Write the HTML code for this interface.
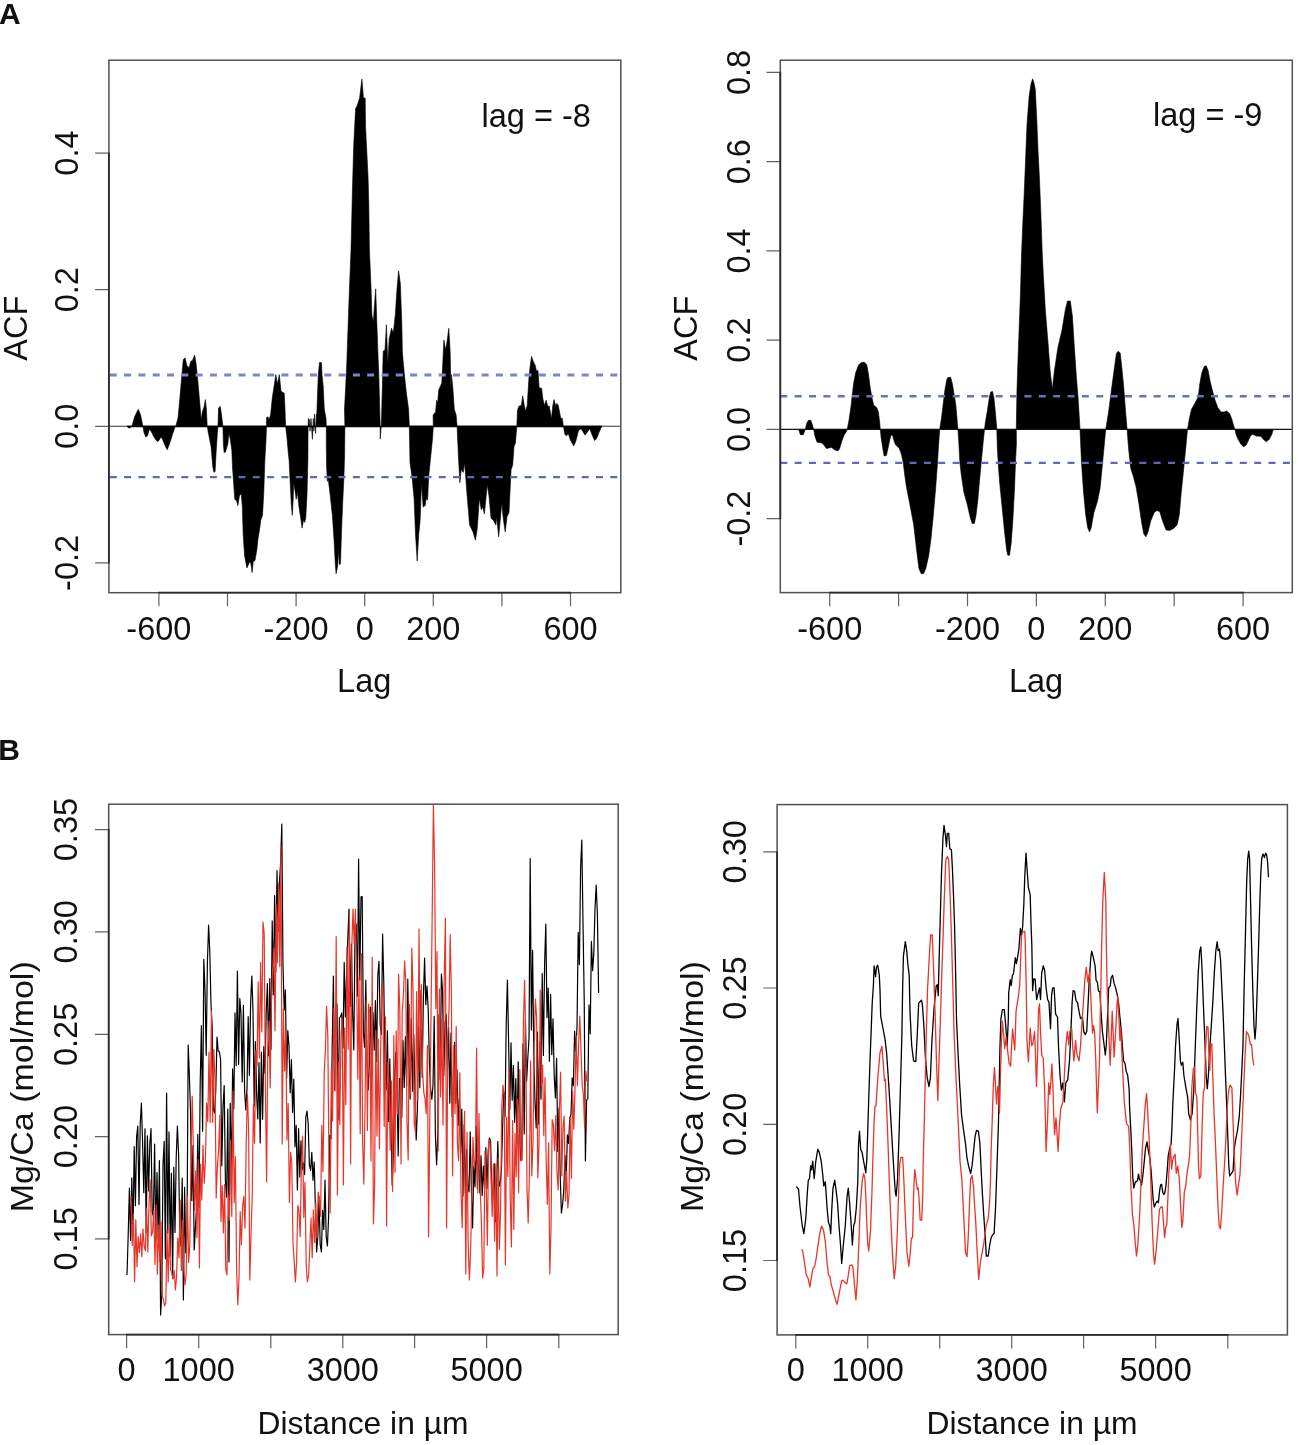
<!DOCTYPE html>
<html lang="en"><head><meta charset="utf-8"><title>Figure</title>
<style>html,body{margin:0;padding:0;background:#fff;overflow:hidden}svg{display:block;will-change:transform;transform:translateZ(0)}text{font-family:'Liberation Sans',sans-serif;fill:#111}</style></head><body>
<svg width="1299" height="1445" viewBox="0 0 1299 1445">
<rect width="1299" height="1445" fill="#fff"/>
<text x="-1" y="24" font-size="30" font-weight="bold" fill="#000">A</text>
<text x="-1.8" y="759.8" font-size="30" font-weight="bold" fill="#000">B</text>
<g id="acf-left">
<path d="M127.3,426.3 129,428.3 131.9,426.3 134.8,416.2 138.3,409.3 140.6,415 142.9,426.3 144,432.4 145.8,437 147.5,435.8 149.3,429.5 151,431.2 154.5,438.1 157.3,441.6 159,440.5 160.8,437 162.5,439.3 164.8,445 167.2,449.7 169.5,443.9 172.4,434.7 174.7,427.7 175.8,426.3 178.1,417.4 179.9,397.7 181.6,378.1 183.3,359.6 185.1,357.9 186.8,365.4 189.1,367.7 190.8,361.4 192.6,360.2 194.6,355 196,363.1 197.8,380.4 199.5,400 201.2,419.7 202.4,411.6 204.1,407 205.3,399.5 206.4,409.3 207.2,426.3 208.7,434.7 211,446.2 212.8,467 213.9,472.2 215.1,471.6 216.2,450.9 217.4,432.4 218,426.3 218.5,408.1 220.3,406.4 221.4,413.9 222.9,426.3 223.4,443.9 224.1,452.6 225.5,452 227.8,443.9 228.9,433.5 230.1,438.2 231.8,449.7 232.5,467 233.7,484.3 234.8,499.4 236.5,500.4 237.9,505.6 239.4,495.8 241.2,493.5 242.3,506.2 243.2,535 244.6,555.8 246.9,568 248.7,563.9 249.8,561.6 251,564 252.1,572.6 253.3,561.6 255,560.5 256.8,550.1 257.9,539.7 259.6,529.3 260.8,520 262.5,515.4 263.7,494.6 264.8,461.2 266,440 266.5,426.3 266.6,417.4 268,416.8 268.9,419.7 270.6,415 272.3,397.7 274.1,386.2 275.8,374.6 277.5,383.9 279.3,374.6 281,390.8 282.7,392.5 284.2,393.1 285,409.3 285.6,426.3 286.8,435.8 288.5,455.5 289.1,460 290.2,483.1 291.4,506.2 292.3,515.4 293.1,500.4 293.7,483.1 294.9,490 296.2,499.3 297.4,492.3 298.9,506.2 300.6,517.7 302.1,528.1 303.5,520 304.7,522.4 305.8,517.7 307,494.6 307.9,460 308.1,426.3 308.4,418.5 309.5,419.7 310,431.2 311,418.5 311.5,426.3 312.4,439.3 313.3,418.5 313.9,431.2 314.5,413.9 315.6,433.5 316.3,413.9 316.8,413.9 317.4,397.7 318.3,374.6 319.5,362.5 321.4,362.5 322,374.6 323.2,386.2 324.3,409.3 326,418.5 326.3,426.3 326.3,443.9 326.6,467 327.4,481.4 328.3,479.6 330.1,494.6 332.4,515.4 334.1,540.8 335.3,563.9 336.1,573.7 337.6,566.2 338.7,550.1 339.3,564.5 340.5,563.9 341.6,529.3 342.8,500.4 343.9,477.3 344.6,455 344.9,426.3 344.5,409.3 345.7,386.2 346.8,363.1 347.6,340 349,300 351,250 352.4,191.5 353.7,145.5 355.6,108.6 357,106 359.6,98.1 361.9,79.1 363.5,98.1 365.2,98.1 365.5,125.7 366.8,152 368.1,178.3 368.8,204.6 369.4,250 370.5,275 371.2,291.6 371.9,315.1 373.3,322 374.5,305 375.7,288.8 376.7,319.3 377.8,350 378.8,374.7 379.6,405 380.2,426.3 380.2,439.1 381.3,426.3 382.3,388.6 383.2,351.2 385,349.8 386.4,324.8 387.8,363.6 389.2,338.7 391.5,328.3 393.3,333.1 395.4,313.7 396.8,291.6 398.6,270.8 400.3,283.3 401.7,319.3 402.4,352.5 404.4,374.7 406.5,394.1 408.6,409.3 409.3,426.3 410,462.7 412,476.5 414.1,498.7 415.5,534.7 417.2,561 418.7,534.7 420.1,520.9 421.5,483.4 423.1,507 425.2,505.6 426.2,498.7 427.6,500.1 428.7,476.5 430.8,455.7 432.6,437.7 433.3,426.3 433.1,414.9 435.6,412.1 436.6,400.3 437.7,402.4 438.7,390 441.8,383 443.9,340.1 445.6,349.8 446.7,344.2 448.8,328.3 450.2,352.5 450.9,388.6 451.5,374.7 452.9,388.6 454.3,409.3 456.1,414.9 457.1,426.3 458.5,458.5 459.9,482.7 461.2,469.6 463.3,472.4 464.4,462.7 465.4,472.4 466.8,491.8 469.6,525 473,531.9 475.4,540.2 477.2,529.2 479.3,498.7 481.3,509.8 482.7,507 484.4,513.9 486.2,495.9 487.2,484.8 489,495.9 491,518.1 493.8,520.9 495.9,525 496.6,516.7 498.7,536.8 500.7,515.3 501.8,502.8 503.2,518.1 505.2,531.9 507,516.7 509,512.5 511.1,469.6 512.7,464.9 514,446.6 515.4,443.3 516.8,426.3 517.5,409.9 519.1,406.1 521.3,405.6 522.7,395.8 524.3,405.6 525.6,411 527.2,405.6 528.9,378.6 530.2,365.6 531.6,356.4 533.2,361.3 535.3,365.6 536.4,371 538,370.5 539.1,387.7 541.6,388.3 542.9,399.1 544.5,405.6 546.1,400.2 547.8,406.6 549.2,406.1 551.5,418.5 552.8,405.6 554.1,399.6 555.5,405.6 556.9,403.4 558.3,405.6 560.7,418 562.3,418.5 563.4,426.3 565,434.7 566.6,435.8 568.3,433.6 570.4,440.1 573.7,446 575.8,441.2 578.5,430.4 581.2,428.8 582.8,431.5 585,435.2 587.7,431.5 589.9,428.8 592,434.7 594.7,440.6 596.9,437.9 599,432.5 601.7,426.3Z" fill="#000" stroke="#000" stroke-width="0.6" stroke-linejoin="round"/>
<path d="M108.9,426.3H620.8" stroke="#333" stroke-width="1.1"/>
<path d="M127,426.5H602" stroke="#000" stroke-width="1.6"/>
<path d="M108.9,375.1H620.8" stroke="#7c84cc" stroke-width="3" stroke-dasharray="7 7.3" stroke-dashoffset="-0.9" fill="none"/>
<path d="M108.9,477.2H620.8" stroke="#6068be" stroke-width="2.2" stroke-dasharray="7 7.3" stroke-dashoffset="-0.9" fill="none"/>
<rect x="108.9" y="60.2" width="511.9" height="532.5" fill="none" stroke="#4e5156" stroke-width="1.5"/>
<path d="M158.9,592.7v13.6M227.5,592.7v13.6M296.1,592.7v13.6M364.7,592.7v13.6M433.3,592.7v13.6M501.9,592.7v13.6M570.5,592.7v13.6" stroke="#5e6268" stroke-width="1.2" fill="none"/><path d="M158.3,592.7H571.1" stroke="#2a2b2e" stroke-width="1.8" fill="none"/><text x="158.9" y="640" font-size="32.5" text-anchor="middle">-600</text><text x="296.1" y="640" font-size="32.5" text-anchor="middle">-200</text><text x="364.7" y="640" font-size="32.5" text-anchor="middle">0</text><text x="433.3" y="640" font-size="32.5" text-anchor="middle">200</text><text x="570.5" y="640" font-size="32.5" text-anchor="middle">600</text>
<path d="M108.9,153.1h-13.8M108.9,289.7h-13.8M108.9,426.3h-13.8M108.9,562.9h-13.8" stroke="#5e6268" stroke-width="1.2" fill="none"/><path d="M108.9,152.5V563.5" stroke="#2a2b2e" stroke-width="1.8" fill="none"/><text transform="translate(78,153.1) rotate(-90)" font-size="32.5" text-anchor="middle">0.4</text><text transform="translate(78,289.7) rotate(-90)" font-size="32.5" text-anchor="middle">0.2</text><text transform="translate(78,426.3) rotate(-90)" font-size="32.5" text-anchor="middle">0.0</text><text transform="translate(78,562.9) rotate(-90)" font-size="32.5" text-anchor="middle">-0.2</text>
<text transform="translate(26.6,328.2) rotate(-90)" font-size="32.5" text-anchor="middle">ACF</text>
<text x="364.2" y="691.8" font-size="32.5" text-anchor="middle">Lag</text>
<text x="481.5" y="127.4" font-size="32.5">lag = -8</text>
</g>
<g id="acf-right">
<path d="M798.7,429.4 800.4,434.7 803.3,434.7 805.3,429.4 806.8,423.1 808.5,420.3 810.8,420.3 812.2,424.3 813.7,429.4 814.8,435.8 817.1,442.2 821.2,442.8 823.5,444.5 826.4,448.5 828.7,448 831.6,447.4 834.5,449.7 837.9,450.9 839.7,448.5 842,440.5 844.3,434.7 846,432.4 847.2,429.4 848.9,420.8 851.2,404.7 853.5,383.9 855.8,372.3 858.7,364.8 861.6,362.5 864.5,362.2 866.8,364.8 868.5,374.6 870.3,388.5 872,397.7 873.7,405.2 876.6,407.5 878.3,411.6 879.5,420.8 880.3,429.4 881.2,438.2 883,449.7 884.1,456 886.4,455.5 888.2,447.4 889.9,439.3 891,435.3 892.6,435.3 893.9,440.5 895.7,445.1 899.1,448 901.4,454.3 903.2,462.4 904.9,476.3 906.6,487.8 908.9,499.4 910.2,506.2 913.7,524.7 916.6,550.1 918.9,568.5 921.2,573.7 923.5,573.7 925.8,568.5 928.7,555.8 931,538.5 933.3,515.4 935.6,488.9 937.3,465.8 938.5,446.2 939.7,429.4 941.4,418.5 943.1,404.7 944.8,390.8 946.6,380.4 947.7,377.5 950.6,377.2 952.4,383.9 954.1,394.3 955.8,404.7 957,418.5 957.9,429.4 958.7,440.5 959.9,462.7 961.6,477.3 963.9,492.3 967.4,505 970.3,517.7 972.2,523.5 974.3,523.5 976,515.4 977.8,500.4 979.5,480.8 981.2,462.7 983,443.9 984.5,429.4 985.3,423.1 987.6,409.3 989.3,397.7 990.7,392 992.5,391.4 993.9,397.7 995.3,411.6 996.5,425.5 996.8,429.4 997.4,449.7 998.5,467 999.7,483.1 1002,506.2 1004.3,529.3 1006.6,550.1 1007.8,555.3 1009.5,555.3 1011.2,543.1 1013,517.7 1014.5,488.9 1015.6,460 1016.4,443.9 1016.3,429.4 1016.9,392.4 1018.3,350.8 1020.4,295.4 1021.5,255 1022.9,221.3 1024.2,193.6 1025.6,158.9 1027,124.3 1029.1,96.6 1031,84 1032.6,78.8 1034,83 1035.3,89.6 1036.7,117.4 1038.1,152 1039.5,179.7 1040.9,214.3 1042.3,255 1043.3,274.6 1045.3,309.3 1048.1,343.9 1050.2,371.6 1052.3,389 1054.3,371.6 1057.8,348.1 1062,330.1 1065.4,309.3 1067.5,301 1070.3,301 1072.4,316.2 1074.4,348.1 1076.5,378.6 1078.2,399.3 1080,429.4 1081.5,462.8 1083.6,493.1 1085.6,513.9 1087.7,527.8 1089.5,531.9 1091.2,527.8 1093.9,512.5 1097.4,501.5 1100.2,487.6 1102.3,465.4 1104.3,444.6 1105.7,429.4 1108.4,413.2 1111.1,392.4 1113.9,371.6 1116.4,353.6 1118.1,351.3 1120.2,352.9 1121.5,364.7 1123.6,385.5 1125.7,413.2 1127.1,429.4 1128.6,448.8 1130.7,468.2 1133.4,476.5 1136.2,487.6 1139,504.2 1141.8,523.6 1143.8,534 1145.9,536.8 1148,531.9 1150.8,520.8 1154.2,512.5 1157,510.5 1159.8,511.8 1162.5,520.8 1166,529.9 1169.5,530.5 1173.6,528.5 1177.1,525 1179.2,515.3 1181.2,493.1 1183.3,472.4 1185.4,451.6 1187.5,429.4 1189.4,418.5 1191.4,409.5 1194.8,403.6 1198.3,396.6 1199.8,383.7 1201.8,372.8 1204.3,366.3 1206.2,365.8 1208.2,370.8 1210.2,381.7 1212.7,391.6 1215.2,400.6 1217.7,407.5 1221.1,412 1224.1,412 1226.6,411 1229.6,413.5 1231.6,418.5 1233.6,425.4 1235,429.4 1236,434.3 1238,439.3 1241,444.3 1243.5,446.8 1246,445.3 1248,441.3 1250.4,436.3 1252.4,434.3 1256.4,436.1 1260.9,436.3 1263.3,439.3 1266.3,441.8 1269.3,439.3 1271.8,434.3 1273.3,429.4Z" fill="#000" stroke="#000" stroke-width="0.6" stroke-linejoin="round"/>
<path d="M780.3,429.4H1292.3" stroke="#111" stroke-width="1.3"/>
<path d="M780.3,396.2H1292.3" stroke="#6870c2" stroke-width="2.4" stroke-dasharray="7 7.36" fill="none"/>
<path d="M780.3,462.8H1292.3" stroke="#6068be" stroke-width="2.2" stroke-dasharray="7 7.36" fill="none"/>
<rect x="780.3" y="60.2" width="512" height="532.4" fill="none" stroke="#4e5156" stroke-width="1.5"/>
<path d="M829.7,592.6v13.6M898.6,592.6v13.6M967.5,592.6v13.6M1036.4,592.6v13.6M1105.3,592.6v13.6M1174.2,592.6v13.6M1243.1,592.6v13.6" stroke="#5e6268" stroke-width="1.2" fill="none"/><path d="M829.1,592.6H1243.7" stroke="#2a2b2e" stroke-width="1.8" fill="none"/><text x="829.7" y="640" font-size="32.5" text-anchor="middle">-600</text><text x="967.5" y="640" font-size="32.5" text-anchor="middle">-200</text><text x="1036.4" y="640" font-size="32.5" text-anchor="middle">0</text><text x="1105.3" y="640" font-size="32.5" text-anchor="middle">200</text><text x="1243.1" y="640" font-size="32.5" text-anchor="middle">600</text>
<path d="M780.3,72.4h-13.8M780.3,161.7h-13.8M780.3,250.9h-13.8M780.3,340.1h-13.8M780.3,429.4h-13.8M780.3,518.6h-13.8" stroke="#5e6268" stroke-width="1.2" fill="none"/><path d="M780.3,71.8V519.2" stroke="#2a2b2e" stroke-width="1.8" fill="none"/><text transform="translate(750,72.4) rotate(-90)" font-size="32.5" text-anchor="middle">0.8</text><text transform="translate(750,161.7) rotate(-90)" font-size="32.5" text-anchor="middle">0.6</text><text transform="translate(750,250.9) rotate(-90)" font-size="32.5" text-anchor="middle">0.4</text><text transform="translate(750,340.1) rotate(-90)" font-size="32.5" text-anchor="middle">0.2</text><text transform="translate(750,429.4) rotate(-90)" font-size="32.5" text-anchor="middle">0.0</text><text transform="translate(750,518.6) rotate(-90)" font-size="32.5" text-anchor="middle">-0.2</text>
<text transform="translate(697.3,328.2) rotate(-90)" font-size="32.5" text-anchor="middle">ACF</text>
<text x="1036" y="691.8" font-size="32.5" text-anchor="middle">Lag</text>
<text x="1153" y="125.7" font-size="32.5">lag = -9</text>
</g>
<g id="mgca-left">
<clipPath id="clipbl"><rect x="108.7" y="804.2" width="509.5" height="530.4"/></clipPath>
<g clip-path="url(#clipbl)" fill="none" stroke-linejoin="round" stroke-width="1.2">
<path d="M127,1275 128.2,1234.9 129.4,1188.1 130.6,1240.4 131.8,1177.9 133,1233 134.2,1146.6 135.4,1205.7 136.6,1136.7 137.8,1126 139,1204.4 140.2,1123.9 141.4,1103 142.6,1143.2 143.8,1192.7 145,1128.8 146.2,1232.5 147.4,1135.9 148.6,1190.9 149.8,1144.8 151,1128.6 152.2,1211.9 153.4,1216.4 154.6,1144 155.8,1239 157,1172.6 158.2,1240 159.4,1160.5 160.6,1315 161.8,1293.8 163,1165.3 164.2,1141.3 165.4,1258.8 166.6,1093 167.8,1233 169,1131.9 170.2,1256.3 171.4,1173.1 172.6,1278.3 173.8,1167.2 175,1232.4 176.2,1157.8 177.4,1126 178.6,1154.5 179.8,1236 181,1246.4 182.2,1178 183.4,1300 184.6,1187.3 185.8,1252.9 187,1232.1 188.2,1045 189.4,1076.2 190.6,1115.2 191.8,1200.7 193,1145.7 194.2,1250 195.4,1227.9 196.6,1207 197.8,1134.4 199,1207.5 200.2,1082.8 201.4,1025.7 202.6,1131.3 203.8,959.3 205,989.6 206.2,1055.3 207.4,962.3 208.6,925 209.8,952.1 211,1004.8 212.2,1027.1 213.4,1109.8 214.6,1113.1 215.8,1090.1 217,1037 218.2,1050.8 219.4,1052 220.6,1059.4 221.8,1165.8 223,1106.4 224.2,1085.7 225.4,1180.6 226.6,1197.1 227.8,1109 229,1262 230.2,1103.3 231.4,1181.4 232.6,1068.8 233.8,1108.9 235,1012.8 236.2,1065.7 237.4,971 238.6,1064.4 239.8,998.6 241,1013.7 242.2,1082 243.4,1005.3 244.6,1090.6 245.8,1110 247,1088.7 248.2,1016.5 249.4,1075.5 250.6,1003.7 251.8,976 253,1010.8 254.2,1106.2 255.4,1041.6 256.6,1094 257.8,1119 259,1062.6 260.2,1143 261.4,1052.2 262.6,1119.3 263.8,1046.7 265,1073.1 266.2,1013.1 267.4,983.6 268.6,1055.7 269.8,978.7 271,1049.5 272.2,920.9 273.4,994.8 274.6,895.6 275.8,972.2 277,870.7 278.2,931.3 279.4,882.4 280.6,863.6 281.8,824 283,966.4 284.2,1009.9 285.4,989.9 286.6,1078.5 287.8,1030.7 289,1046.4 290.2,1092.8 291.4,1059.5 292.6,1112.3 293.8,1079.2 295,1146.7 296.2,1125.4 297.4,1190 298.6,1128.7 299.8,1177.1 301,1140.8 302.2,1169.9 303.4,1162.8 304.6,1174.6 305.8,1117.3 307,1111 308.2,1123.9 309.4,1165.2 310.6,1170.4 311.8,1152.3 313,1180.3 314.2,1162 315.4,1207.8 316.6,1252 317.8,1237.4 319,1196.7 320.2,1244.9 321.4,1252 322.6,1210.4 323.8,1229.5 325,1180 326.2,1237.2 327.4,1246 328.6,1216.9 329.8,1135.3 331,1138.8 332.2,1047.3 333.4,976 334.6,1090.1 335.8,1006.3 337,1004 338.2,1120 339.4,1018.1 340.6,1016.5 341.8,1012.9 343,1048 344.2,962.4 345.4,1017 346.6,972.6 347.8,938.1 349,909 350.2,1006.5 351.4,944 352.6,1012 353.8,1050 355,935.9 356.2,924.2 357.4,996.1 358.6,859 359.8,980 361,896.8 362.2,896.6 363.4,1032.6 364.6,1047.1 365.8,980.2 367,1061 368.2,1090 369.4,1062 370.6,1007.2 371.8,1071.2 373,1012.3 374.2,1050.2 375.4,1000.6 376.6,1061.4 377.8,975.2 379,961.4 380.2,1025 381.4,1034.3 382.6,934 383.8,983 385,1070.5 386.2,1089.8 387.4,1030.6 388.6,1121.4 389.8,1058.9 391,1126.2 392.2,1185 393.4,1154.9 394.6,1075.8 395.8,1052 397,1090.4 398.2,1156 399.4,1078.5 400.6,1079.4 401.8,1117.3 403,1040.6 404.2,1087.5 405.4,1036.5 406.6,1086.3 407.8,979 409,1063.4 410.2,1099.1 411.4,1018.5 412.6,1091.2 413.8,1034.6 415,1097 416.2,1140 417.4,1108.5 418.6,1026.4 419.8,1087.7 421,990.7 422.2,1077.2 423.4,996.5 424.6,958 425.8,1004.6 427,986.1 428.2,1008.6 429.4,1063.3 430.6,1089.1 431.8,1099.2 433,1085 434.2,1016.3 435.4,1134.9 436.6,1165 437.8,1132.5 439,1014.8 440.2,1079.4 441.4,974 442.6,991.8 443.8,1075.9 445,1023.9 446.2,1014.7 447.4,1070.9 448.6,1027 449.8,1103.2 451,1032.9 452.2,1116.5 453.4,1091.8 454.6,1042.3 455.8,1103.4 457,1069.7 458.2,1125.5 459.4,1098.6 460.6,1153.3 461.8,1109.2 463,1196 464.2,1125.1 465.4,1193.4 466.6,1149.4 467.8,1185 469,1192 470.2,1131.8 471.4,1191 472.6,1228 473.8,1166.2 475,1186.8 476.2,1126 477.4,1188.4 478.6,1143 479.8,1193 481,1155.8 482.2,1195.6 483.4,1166.1 484.6,1188.6 485.8,1147.7 487,1188.7 488.2,1150.3 489.4,1138 490.6,1140.7 491.8,1194.6 493,1193.1 494.2,1163.5 495.4,1222 496.6,1188 497.8,1141.3 499,1186.4 500.2,1183.5 501.4,1170.5 502.6,1125.9 503.8,1092.3 505,1116.9 506.2,1025.7 507.4,980 508.6,1041 509.8,1109.9 511,1042.8 512.2,1100.3 513.4,1065.3 514.6,1122.5 515.8,1078.6 517,1143.8 518.2,1061.8 519.4,1123.9 520.6,1160 521.8,1149 523,1043.8 524.2,1134 525.4,1020.3 526.6,1081.3 527.8,1058 529,1039 530.2,858.6 531.4,1030 532.6,950.4 533.8,1055.9 535,1102.2 536.2,1128 537.4,1032.1 538.6,1124.1 539.8,1042 541,1099.2 542.2,973.4 543.4,1055.5 544.6,964.2 545.8,924 547,1017.6 548.2,988 549.4,1061.2 550.6,994.4 551.8,1054.7 553,1018.9 554.2,1075.1 555.4,1097.9 556.6,1058.3 557.8,1151.5 559,1108.2 560.2,1175.5 561.4,1213 562.6,1204.3 563.8,1189.8 565,1155.6 566.2,1178.5 567.4,1134.9 568.6,1143.3 569.8,1117.8 571,1114.4 572.2,1077.9 573.4,1085.7 574.6,1031.2 575.8,1051.2 577,1027 578.2,932.3 579.4,964.6 580.6,868.1 581.8,840 583,922.3 584.2,998.5 585.4,1161 586.6,1099.9 587.8,1098.9 589,1004.9 590.2,1033.8 591.4,941.4 592.6,970.6 593.8,953.4 595,908.5 596.2,885 597.4,914.5 598.6,993" stroke="#000"/>
<path d="M131,1196 132.2,1245.4 133.4,1213.8 134.6,1282 135.8,1219.8 137,1266.7 138.2,1236.6 139.4,1252.4 140.6,1233.8 141.8,1256.6 143,1229 144.2,1246.3 145.4,1250.7 146.6,1208 147.8,1251.9 149,1204.4 150.2,1180 151.4,1235.8 152.6,1231.9 153.8,1210.3 155,1264.5 156.2,1204.8 157.4,1274.3 158.6,1225.1 159.8,1261.7 161,1222 162.2,1296.6 163.4,1299.3 164.6,1306 165.8,1302.5 167,1230.8 168.2,1281.9 169.4,1225 170.6,1269.9 171.8,1272.9 173,1279.1 174.2,1270.4 175.4,1290 176.6,1276.5 177.8,1238.1 179,1258 180.2,1200 181.4,1270.5 182.6,1220.1 183.8,1268.6 185,1285 186.2,1273.8 187.4,1196.5 188.6,1262.5 189.8,1245.8 191,1161.1 192.2,1096 193.4,1148.4 194.6,1210.5 195.8,1170.8 197,1237.6 198.2,1159.6 199.4,1268 200.6,1164.1 201.8,1200 203,1145.3 204.2,1183.3 205.4,1161.3 206.6,1103.1 207.8,1121.6 209,1052.1 210.2,1122.6 211.4,1011 212.6,1122.2 213.8,1049.3 215,1080.6 216.2,1198 217.4,1166.4 218.6,1150.9 219.8,1115 221,1221.5 222.2,1185.6 223.4,1232.9 224.6,1184.3 225.8,1269.3 227,1275 228.2,1194.5 229.4,1220.2 230.6,1140 231.8,1216.6 233,1091 234.2,1202.8 235.4,1156.7 236.6,1270 237.8,1305 239,1278.3 240.2,1211.7 241.4,1244.9 242.6,1206.3 243.8,1196.4 245,1228.2 246.2,1142.7 247.4,1094 248.6,1128.5 249.8,1280 251,1235.7 252.2,1196.6 253.4,1104 254.6,1143.3 255.8,1050.5 257,1066.1 258.2,981.8 259.4,1057.9 260.6,962.5 261.8,1031.8 263,922 264.2,933.7 265.4,1088 266.6,1182 267.8,1048.1 269,1021 270.2,1087.9 271.4,1002.3 272.6,970.7 273.8,947.8 275,1030.8 276.2,904.8 277.4,962.7 278.6,883.8 279.8,966.8 281,845.6 282.2,1144 283.4,1008.8 284.6,1070.9 285.8,1030.3 287,1140.1 288.2,1103.5 289.4,1202.4 290.6,1152.4 291.8,1162.9 293,1243.3 294.2,1261.3 295.4,1282 296.6,1261.9 297.8,1205.5 299,1210.7 300.2,1236.7 301.4,1166.1 302.6,1136 303.8,1217.6 305,1182.3 306.2,1265 307.4,1282 308.6,1275 309.8,1247.8 311,1218.2 312.2,1257.8 313.4,1209.8 314.6,1242.4 315.8,1203.1 317,1238.1 318.2,1192.1 319.4,1198.5 320.6,1216.2 321.8,1125.1 323,1171.7 324.2,1074.9 325.4,1049.1 326.6,1006 327.8,1035.4 329,1170.1 330.2,1213 331.4,1069 332.6,1121.1 333.8,1008 335,1090.9 336.2,936.5 337.4,1195 338.6,1062 339.8,1124.7 341,1035 342.2,1019.6 343.4,1185 344.6,1028 345.8,1104.8 347,947.4 348.2,1049.2 349.4,914 350.6,1164 351.8,946.8 353,909 354.2,943.4 355.4,909 356.6,974 357.8,1079.2 359,977 360.2,1133.7 361.4,953.5 362.6,1141 363.8,1184 365,1107.1 366.2,1000.9 367.4,1130.4 368.6,1004.1 369.8,1012.1 371,1160.9 372.2,957 373.4,1224 374.6,1186.4 375.8,1030.3 377,1136.1 378.2,1038.8 379.4,1148.7 380.6,1052 381.8,983 383,996.9 384.2,1126.6 385.4,1016.9 386.6,1226 387.8,1062.4 389,1083.6 390.2,1150.2 391.4,1080.9 392.6,1191.5 393.8,1035.6 395,1172.3 396.2,1030.9 397.4,1113.9 398.6,974 399.8,1009.5 401,1164 402.2,1011.7 403.4,995.3 404.6,961 405.8,981.7 407,1121.9 408.2,1160 409.4,1004.5 410.6,1094.1 411.8,948 413,988.1 414.2,1121.6 415.4,1132 416.6,991.5 417.8,1100.3 419,929 420.2,1071.4 421.4,984.5 422.6,1071.7 423.8,1092.7 425,1098.6 426.2,1113.8 427.4,1045.4 428.6,1237 429.8,1118.8 431,1016.2 432.2,914.6 433.4,804.4 434.6,865.9 435.8,1008.6 437,951.5 438.2,1151 439.4,988.9 440.6,1097 441.8,1019.9 443,1125.1 444.2,978.9 445.4,918 446.6,1228 447.8,1037.1 449,1010.6 450.2,934.5 451.4,993.8 452.6,1176 453.8,1045.6 455,1113.8 456.2,1026.5 457.4,1143.1 458.6,1160.6 459.8,1072.8 461,1190.4 462.2,1227.7 463.4,1146.9 464.6,1111.3 465.8,1273.9 467,1132.4 468.2,1245.6 469.4,1280 470.6,1249.9 471.8,1197.2 473,1137.3 474.2,1167.8 475.4,1159 476.6,1048 477.8,1192.8 479,1113.6 480.2,1187.8 481.4,1222.6 482.6,1278 483.8,1268.3 485,1151 486.2,1186.1 487.4,1245.2 488.6,1141.6 489.8,1140 491,1174 492.2,1216.5 493.4,1164.5 494.6,1240.9 495.8,1164.1 497,1276 498.2,1157.9 499.4,1249.4 500.6,1207.8 501.8,1106 503,1085 504.2,1095.5 505.4,1265 506.6,1117.1 507.8,1176.4 509,1070 510.2,1196.9 511.4,1247 512.6,1120.5 513.8,1229.4 515,1133.4 516.2,1176.9 517.4,1099.7 518.6,1192.6 519.8,1069.6 521,1161.2 522.2,1159.9 523.4,1023.1 524.6,980 525.8,1042.9 527,1187.6 528.2,1223 529.4,1174.1 530.6,1060.9 531.8,1175.9 533,1141.7 534.2,1045.5 535.4,999 536.6,1017.6 537.8,1178 539,1146 540.2,990 541.4,1085.9 542.6,1065.1 543.8,1135.7 545,1077.5 546.2,1161.7 547.4,1204.2 548.6,1142.8 549.8,1274 551,1229.6 552.2,1119.6 553.4,1125 554.6,1150.6 555.8,1115.7 557,1173.2 558.2,1190 559.4,1109.8 560.6,1072 561.8,1175.8 563,1126.4 564.2,1116.1 565.4,1201.1 566.6,1171.5 567.8,1208 569,1195.1 570.2,1117.6 571.4,1178.3 572.6,1091.1 573.8,1129.2 575,1089.5 576.2,1035.5 577.4,1085.7 578.6,1044.6 579.8,1016 581,1050.5 582.2,1085.6 583.4,1093.8 584.6,1128 585.8,1071.1 587,1081.4" stroke="#e8352a"/>
</g>
<rect x="108.7" y="804.2" width="509.5" height="530.4" fill="none" stroke="#4e5156" stroke-width="1.5"/>
<path d="M126.6,1334.6v13.6M198.7,1334.6v13.6M270.8,1334.6v13.6M342.8,1334.6v13.6M414.6,1334.6v13.6M486.6,1334.6v13.6M558.8,1334.6v13.6" stroke="#5e6268" stroke-width="1.2" fill="none"/><path d="M126,1334.6H559.4" stroke="#2a2b2e" stroke-width="1.8" fill="none"/><text x="126.6" y="1381.3" font-size="32.5" text-anchor="middle">0</text><text x="198.7" y="1381.3" font-size="32.5" text-anchor="middle">1000</text><text x="342.8" y="1381.3" font-size="32.5" text-anchor="middle">3000</text><text x="486.6" y="1381.3" font-size="32.5" text-anchor="middle">5000</text>
<path d="M108.7,829.6h-13.8M108.7,931.8h-13.8M108.7,1034.4h-13.8M108.7,1136.6h-13.8M108.7,1238.9h-13.8" stroke="#5e6268" stroke-width="1.2" fill="none"/><path d="M108.7,829V1239.5" stroke="#2a2b2e" stroke-width="1.8" fill="none"/><text transform="translate(77.3,829.6) rotate(-90)" font-size="32.5" text-anchor="middle">0.35</text><text transform="translate(77.3,931.8) rotate(-90)" font-size="32.5" text-anchor="middle">0.30</text><text transform="translate(77.3,1034.4) rotate(-90)" font-size="32.5" text-anchor="middle">0.25</text><text transform="translate(77.3,1136.6) rotate(-90)" font-size="32.5" text-anchor="middle">0.20</text><text transform="translate(77.3,1238.9) rotate(-90)" font-size="32.5" text-anchor="middle">0.15</text>
<text transform="translate(32.9,1086.8) rotate(-90)" font-size="32" text-anchor="middle" textLength="251" lengthAdjust="spacingAndGlyphs">Mg/Ca (mol/mol)</text>
<text x="363" y="1433.5" font-size="30.5" text-anchor="middle" textLength="211" lengthAdjust="spacingAndGlyphs">Distance in µm</text>
</g>
<g id="mgca-right">
<g fill="none" stroke-linejoin="round" stroke-width="1.3">
<path d="M796.3,1186.8 798.5,1189 800,1206.5 802.2,1225.5 803.9,1233.6 805.8,1218.2 807.3,1193.3 808.3,1180.2 809.5,1178.7 810.7,1165.6 811.7,1169.9 812.7,1161.2 814.2,1178.7 815.6,1162.6 817.8,1149.2 819.3,1152.4 821.2,1161.2 822.7,1174.3 823.8,1186 825.3,1181.6 826.3,1196.3 827.3,1210.9 828.5,1222.6 829.7,1225.5 830.7,1233.6 831.7,1210.9 832.9,1189 834.7,1180.2 836.1,1190.4 837.6,1203.6 839,1225.5 840.5,1244.5 841.7,1263.4 843.1,1247.5 845.3,1225.5 847.1,1196.3 848.3,1188.2 849.7,1203.6 851.2,1225.5 852.4,1245 853.7,1225.5 854.8,1222.6 856.3,1208 857.8,1181.6 858.5,1145.1 859.5,1131.2 860.7,1149.5 862.1,1152.4 863.6,1161.2 865.8,1172.9 866.8,1159.7 868,1123.1 868.7,1099.7 870.2,1055.8 871.6,1019.3 872.2,1003.2 873.4,985.5 874.1,965.8 875.6,976.7 876.5,967 877.8,965.3 879.3,975.3 880,990 880.7,1016.3 882.9,1028 885.1,1039.7 886.6,1052.9 888.8,1085.1 891,1121.6 893.1,1158.2 895.3,1191.8 896.1,1196.2 897.5,1180.1 899,1136.3 900.5,1085.1 901.9,1033.9 902.7,985.5 903.4,956.3 905.3,941.6 906.7,950.4 907.8,963.6 909.2,975.3 910,1011.9 911.7,1045.6 913.6,1060.9 915.8,1061.7 917.3,1033.9 918.7,1003.1 921.4,1000.1 922.4,1004.6 923.9,1026.6 925.3,1055.8 927.2,1077.8 929,1086.5 930.4,1077.8 931.9,1041.2 934.1,1007.4 936.3,985.5 937.5,984.8 938.2,995.7 939.2,956.3 940.4,912.4 941.4,875.8 942.9,839.3 944,825.4 945.4,834.9 946.5,846.6 947.3,833.4 948.7,833.4 949.8,848.8 951.4,849.5 952.4,868.5 953.6,897.8 954.6,927 955.6,970.9 956.5,1019.3 958.2,1055.8 959.7,1085.1 961.5,1114.3 963.4,1128.9 965.5,1143.6 967,1158.2 968.5,1165.5 970.7,1173.5 972.1,1165.5 973.6,1150.9 975.1,1136.3 976.5,1130.4 978.4,1131.1 979.9,1143.6 981.3,1172.8 982.4,1193.9 983.8,1215.8 985.3,1237.8 986.3,1256 988.2,1256 989.7,1245.1 991.1,1237.8 992.6,1234.8 994.1,1233.4 995.5,1208.5 997,1165.5 998.5,1121.6 999.2,1085.1 999.9,1048.5 1000.9,1019.3 1002.4,1009.7 1004.3,1009.7 1005.8,1026.6 1007.2,1045.6 1008.3,1019.3 1008.7,992.8 1010.2,979.7 1011.2,985.5 1012.4,975.3 1013.5,973.8 1015.3,957.7 1016.4,963.6 1017.5,957.7 1018.9,949 1020.4,928.5 1021.4,935.8 1022.6,927 1023.8,905.1 1024.8,875.8 1026,853.1 1027,868.5 1028.4,887.5 1030.2,894.8 1031.1,927 1031.8,943.9 1032.6,990.7 1033.7,979 1035.1,979 1036.6,999.5 1038,993.6 1039.5,987.8 1040.5,999.5 1041.7,973.1 1043.2,965.8 1044.6,970.2 1046.1,987.8 1047.6,999.5 1049,1002.4 1050.5,1028.7 1051.6,995.1 1052.7,987.8 1054.1,987.8 1055.6,1014.1 1057.5,1017 1058.5,1046.3 1060,1075.5 1061.4,1090.1 1062.9,1082.8 1064.4,1101.8 1065.8,1082.8 1067.7,1079.9 1069.5,1060.9 1070.9,1031.6 1072.1,1002.4 1073.1,990.7 1074.6,991.4 1076.1,1000.9 1077.5,1002.4 1079,1011.2 1080.5,1018.5 1082.4,1017 1083.8,1031.6 1085.3,1034.6 1086.7,1031.6 1087.8,1009.7 1089.2,980.4 1090.7,958.5 1091.7,951.2 1093.2,957 1095.1,965.8 1096.1,980.4 1097.3,981.9 1098.4,990.7 1099.9,992.1 1100.9,1009.7 1102.4,1031.6 1103.9,1043.3 1105.3,1055 1106.3,1044.8 1107.5,1017 1108.7,987.8 1110.2,986.3 1111.2,977.5 1112.6,975.3 1114.1,983.4 1115.6,987.8 1117,993.6 1118.5,1002.4 1119.9,1017 1121.4,1031.6 1122.4,1046.3 1123.6,1060.9 1125.1,1063.8 1126.2,1071.1 1127.7,1075.5 1129.2,1090.1 1129.5,1104.6 1130.6,1126.6 1131.7,1148.5 1132.8,1177.8 1133.8,1188 1135.3,1182.1 1137.5,1180.7 1138.5,1174.1 1139.4,1179.2 1140.4,1180.7 1141.5,1185.1 1142.6,1177.8 1144.1,1163.1 1145.5,1148.5 1147,1141.9 1148.5,1151.4 1149.9,1158.7 1151.1,1170.4 1152.1,1185.1 1153.2,1199.7 1154.3,1207 1155.8,1203.4 1157.2,1201.2 1158.4,1202.6 1159.4,1192.4 1160.5,1185.1 1161.6,1184.3 1162.8,1192.4 1163.8,1194.6 1164.9,1192.4 1166,1185.1 1167.2,1170.4 1168.2,1155.8 1169.7,1148.5 1171.1,1144.1 1172,1126.6 1172.8,1104.6 1173.5,1090 1174.6,1068.2 1175.5,1046.3 1177,1024.3 1178,1018.5 1179.2,1038.9 1180.4,1060.9 1181.4,1065.3 1182.8,1062.3 1183.9,1075.5 1185.8,1087.2 1187.7,1097.5 1188.7,1113.8 1190.4,1119.8 1192.1,1113.8 1193.8,1090.1 1195.3,1046.3 1196.7,1009.7 1198.2,973.1 1199.7,951.2 1200.8,946.8 1201.9,965.8 1203.3,1002.4 1204.8,1038.9 1206.2,1075.5 1207.3,1088.7 1208.4,1075.5 1209.9,1046.3 1211.4,1024.3 1212.8,1002.4 1214.3,973.1 1215.8,951.2 1217.2,941.7 1218.2,950.6 1219.4,949.1 1220.6,960.7 1221.6,982.5 1223,1011.6 1224,1035.9 1225.3,1070.5 1226.7,1105.1 1227.9,1139.7 1228.8,1165.6 1229.7,1176 1231.4,1173.4 1233.1,1170.8 1234.3,1148.3 1235.7,1139.7 1237.4,1131 1239.2,1117.2 1240.5,1096.5 1241.8,1070.5 1243,1044.6 1244.1,989.8 1245.5,931.7 1246.7,880.8 1247.7,859.1 1248.7,851.1 1249.6,859.1 1250.6,902.6 1251.6,946.2 1252.8,989.8 1254,1026.1 1255,1039 1256,1026.1 1257.2,989.8 1258.6,946.2 1259.8,902.6 1260.8,873.6 1261.8,857.6 1263,854 1264.4,857.6 1265.6,853.2 1266.6,854.7 1267.6,862 1268.5,877.2" stroke="#000"/>
<path d="M801.4,1249.5 802.5,1250.2 804.4,1261.9 806.3,1275.1 808,1278 809.9,1286.8 811.7,1275.1 813.1,1267.8 814.6,1267 816.1,1259 817.5,1248.7 819.7,1234.1 821.5,1226.1 823.4,1229.7 825.3,1241.4 827,1261.9 828.5,1275.1 830,1276.5 831.4,1285.3 833.2,1291.2 835.1,1298.5 837,1304.3 838.5,1297 840.2,1288.2 841.7,1280.9 843.1,1280.2 844.9,1282.4 846.8,1283.8 848.3,1275.1 849.7,1265.6 851.9,1264.8 853.1,1267.8 854.5,1285.3 855.9,1299.9 857.3,1281.6 858.8,1245.1 860,1210.9 862.1,1181.6 863.6,1173.6 864.8,1177.2 865.8,1196.3 866.8,1223.1 867.6,1242.1 868.7,1250.9 870.5,1230.4 871.9,1193.9 872.7,1165.5 874.1,1121.6 874.9,1107 876,1105.5 877.8,1077.8 880,1052.9 881.9,1046.3 883.3,1063.1 884.4,1080.7 885.4,1079.2 886.6,1107 888,1143.6 889.5,1186.6 891,1223.1 892.4,1252.4 894.2,1278.7 895.6,1267 897.1,1237.8 898.6,1193.9 899.7,1164.6 900.9,1157.3 902.7,1157.3 903.8,1179.3 905.3,1215.8 907,1252.4 908.8,1266.3 910.3,1252.4 911.4,1237.8 912.6,1237.8 913.6,1193.9 914.7,1169.7 916.1,1179.3 917.3,1189.5 918.2,1188 919,1198.3 920.2,1220.2 921.7,1220.2 922.8,1193.9 923.1,1165.5 924.3,1121.6 925.3,1077.8 926.3,1033.9 927.5,990 928.6,970 929.7,948.9 930.7,935 932.2,935 933.4,963.6 934.5,995 935.3,1019.3 936.3,1055.8 937.8,1100.4 939.2,1055.8 940.4,1019.3 941.4,985.5 942.9,941.6 944.3,897.8 945.8,859.7 947.3,856.5 948.7,859.7 950.2,897.8 951.6,941.6 952.8,985.5 954.1,1033.9 956,1077.8 958.2,1121.6 960,1161.1 961.9,1180.1 962.6,1193.9 964.1,1223.1 965.5,1252.4 967,1256.8 968.2,1237.8 969.6,1201.2 970.7,1178.7 972.1,1175.7 973.6,1187.4 974.3,1201.2 975.8,1223.1 977.2,1252.4 978.7,1279.4 980.2,1264.1 981.6,1255.3 983.8,1243.6 986,1226.1 988.2,1218.7 989.7,1201.2 990.5,1180.1 991.1,1150.9 992.2,1121.6 993.3,1085.1 994.5,1067.5 995.5,1085.1 996.6,1104.1 997.7,1086.5 998.7,1092.4 999.5,1112.9 1000.4,1077.8 1001.4,1041.2 1002.4,1021.4 1003.6,1033.9 1004.7,1048.5 1006.2,1036.8 1007.7,1051.4 1009.1,1063.1 1010.6,1066.1 1011.6,1045.6 1012.6,1028.8 1013.8,1041.2 1014.8,1050 1016,1011.9 1018.2,997.3 1019.7,985.5 1020.8,956.3 1021.4,935.8 1022.6,932.1 1024.8,931.4 1025.2,941.6 1026.2,985.5 1027,1041.2 1028.4,1061.7 1030.2,1028 1031.7,1045.6 1032.8,1044.1 1034.6,1031.7 1035.5,1055.8 1036.5,1086.5 1037.5,1055.8 1038.5,1010 1039.5,1003.8 1040.5,1031.6 1041.7,1055 1043.2,1058 1044.6,1088.7 1045.4,1119.3 1046.1,1151.4 1047.6,1119.3 1048.7,1082.8 1049.7,1094.5 1050.8,1082.8 1051.9,1063.8 1053.1,1090.1 1053.6,1111.9 1054.6,1134.6 1056,1117.8 1057.1,1133.9 1058.1,1151.4 1059.3,1126.6 1060.7,1109 1062.9,1101.8 1064.4,1075.5 1065.8,1046.3 1067.3,1031.6 1068.8,1044.8 1069.8,1031.6 1071.7,1028.7 1072.7,1046.3 1073.9,1060.9 1075.6,1040.4 1076.8,1053.6 1079,1060.9 1080.5,1046.3 1081.9,1024.3 1083.4,1002.4 1084.8,980.4 1086.3,967.3 1087.8,981.9 1089.7,971.7 1090.7,995.1 1091.7,1017 1092.6,1033.1 1093.6,1025.8 1094.6,1031.6 1095.8,1060.9 1096.6,1090 1097.3,1112.7 1098.2,1090 1099.5,1060.9 1100.5,1002.4 1101.7,943.9 1102.8,900 1104.3,872.6 1105.8,900 1106.3,943.9 1107.2,990.7 1108.2,1017 1109.3,1046.3 1110.2,1065.3 1111.2,1038.9 1112.2,1011.2 1113.1,1031.6 1114.1,1057.2 1115.6,1031.6 1117,1005.3 1117.8,996.5 1118.9,1017 1119.9,1040.4 1120.7,1027.2 1121.9,1053.6 1122.9,1075.5 1124.3,1102 1126.5,1123.6 1128.7,1126.6 1129.8,1148.5 1130.9,1185.1 1132.4,1214.3 1133.8,1224.6 1135.3,1243.6 1136.5,1256 1137.9,1243.6 1139.7,1214.3 1141.2,1177.8 1142.3,1148.5 1143.8,1126.6 1145.3,1104.6 1146.6,1093.7 1147.7,1111.9 1149.2,1141.2 1150.7,1177.8 1152.1,1221.6 1153.6,1255.3 1154.6,1264.1 1156.1,1250.9 1158,1229 1159.4,1209.9 1160.9,1207 1162.4,1207 1163.4,1221.6 1164.6,1237.7 1165.7,1227.5 1166.8,1224.6 1167.8,1199.7 1169,1170.4 1170.4,1144.1 1171.6,1169 1172.6,1160.2 1174.1,1155.8 1175.1,1154.4 1176.3,1173.4 1177.7,1166.1 1179.2,1177.8 1180.7,1207 1181.8,1227.5 1182.8,1221.6 1184.3,1192.4 1185.8,1185.1 1187.2,1171.9 1188.7,1163.1 1189.7,1154.4 1190.9,1122.4 1191.8,1087.8 1193.3,1068.8 1194.6,1067.1 1195.6,1093 1196.8,1096.5 1197.7,1131 1198.5,1165.6 1199.4,1178.6 1200.8,1176 1202,1131 1203.2,1093 1204.6,1087.8 1205.4,1053.2 1206.7,1026.4 1208,1027.3 1208.9,1053.2 1209.8,1070.5 1210.6,1044.6 1211.8,1043.7 1212.9,1079.2 1214.1,1113.8 1215.3,1139.7 1216.7,1174.3 1218.1,1208.9 1219.3,1227 1220.5,1228.7 1221.9,1208.9 1223.3,1182.9 1225,1157 1226.2,1131 1227.4,1105.1 1228.8,1089.5 1230.2,1085.2 1231.9,1087.8 1233.1,1122.4 1234.3,1157 1235.7,1182.9 1237.1,1195 1238.3,1186.4 1240,1174.3 1241.2,1148.3 1242.6,1113.8 1244,1079.2 1245.2,1053.2 1246.4,1031.6 1247.8,1033.3 1249.2,1037.7 1250.4,1044.6 1251.6,1044.6 1252.7,1058.4 1253.9,1065.3" stroke="#e8352a"/>
</g>
<rect x="777.1" y="804.6" width="510.3" height="530.3" fill="none" stroke="#4e5156" stroke-width="1.5"/>
<path d="M795.8,1334.9v13.6M867.7,1334.9v13.6M939.7,1334.9v13.6M1011.7,1334.9v13.6M1083.6,1334.9v13.6M1155.6,1334.9v13.6M1227.8,1334.9v13.6" stroke="#5e6268" stroke-width="1.2" fill="none"/><path d="M795.2,1334.9H1228.4" stroke="#2a2b2e" stroke-width="1.8" fill="none"/><text x="795.8" y="1381.3" font-size="32.5" text-anchor="middle">0</text><text x="867.7" y="1381.3" font-size="32.5" text-anchor="middle">1000</text><text x="1011.7" y="1381.3" font-size="32.5" text-anchor="middle">3000</text><text x="1155.6" y="1381.3" font-size="32.5" text-anchor="middle">5000</text>
<path d="M777.1,851.8h-13.8M777.1,988h-13.8M777.1,1124.3h-13.8M777.1,1260.5h-13.8" stroke="#5e6268" stroke-width="1.2" fill="none"/><path d="M777.1,851.2V1261.1" stroke="#2a2b2e" stroke-width="1.8" fill="none"/><text transform="translate(745.5,851.8) rotate(-90)" font-size="32.5" text-anchor="middle">0.30</text><text transform="translate(745.5,988) rotate(-90)" font-size="32.5" text-anchor="middle">0.25</text><text transform="translate(745.5,1124.3) rotate(-90)" font-size="32.5" text-anchor="middle">0.20</text><text transform="translate(745.5,1260.5) rotate(-90)" font-size="32.5" text-anchor="middle">0.15</text>
<text transform="translate(702.8,1086.6) rotate(-90)" font-size="32" text-anchor="middle" textLength="251" lengthAdjust="spacingAndGlyphs">Mg/Ca (mol/mol)</text>
<text x="1032" y="1433.5" font-size="30.5" text-anchor="middle" textLength="211" lengthAdjust="spacingAndGlyphs">Distance in µm</text>
</g>
</svg></body></html>
